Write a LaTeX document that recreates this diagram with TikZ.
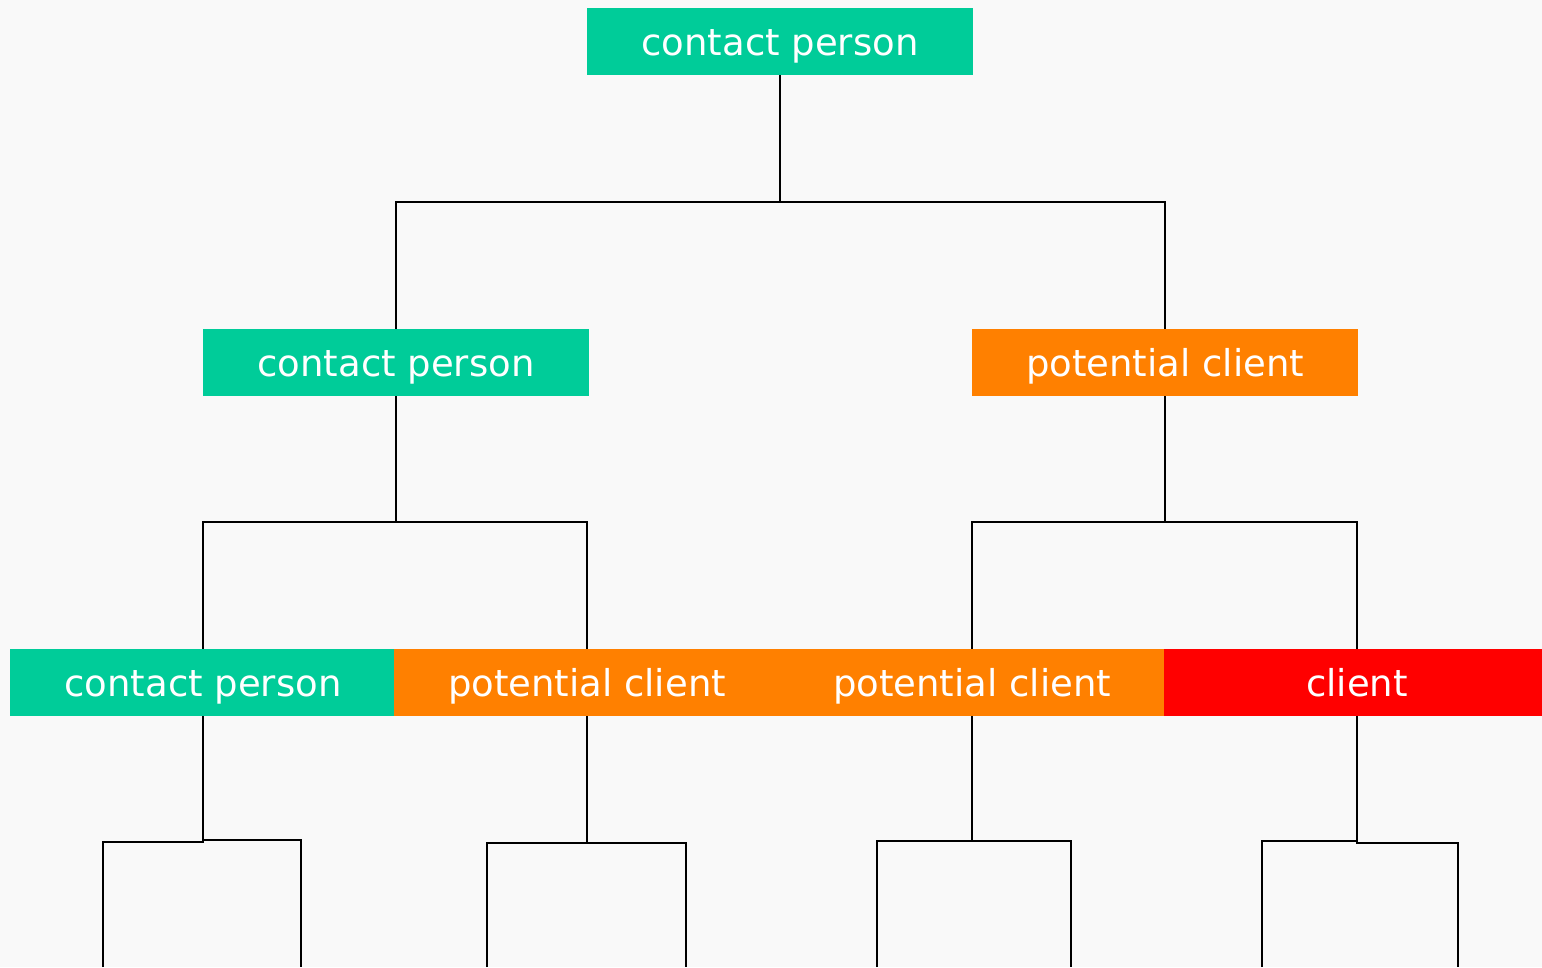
\documentclass[tikz,border=0pt]{standalone}
\usepackage{fontspec}
\setmainfont{DejaVu Sans}
\definecolor{bgcol}{RGB}{249,249,249}
\definecolor{gcol}{RGB}{0,204,153}
\definecolor{ocol}{RGB}{255,128,0}
\definecolor{rcol}{RGB}{255,0,0}
\tikzset{every picture/.style={x=1pt,y=-1pt}}
\tikzset{stage/.style={rectangle,inner sep=0pt,minimum width=386,minimum height=67,text=white,text height=27pt,text depth=0pt,font=\fontsize{37}{40}\selectfont}}
\tikzset{link/.style={line width=2pt,black}}

\begin{document}
\begin{tikzpicture}
\clip (0,0) rectangle (1542,967);
\fill [bgcol] (0,0) rectangle (1542,967);

\node [stage,fill=gcol] (top) at (780,41.5) {contact person};

\node [stage,fill=gcol] (cp2) at (396,362.5) {contact person};
\node [stage,fill=ocol] (pc2) at (1165,362.5) {potential client};

\node [stage,fill=gcol] (cp3) at (203,682.5) {contact person};
\node [stage,fill=ocol] (pc3a) at (587,682.5) {potential client};
\node [stage,fill=ocol] (pc3b) at (972,682.5) {potential client};
\node [stage,fill=rcol] (cl3) at (1357,682.5) {client};

\coordinate (j0) at (780,202);
\coordinate (j1) at (396,522);
\coordinate (j2) at (1165,522);
\draw [link] (top) -- (j0);
\draw [link] (j0) -| (cp2);
\draw [link] (j0) -| (pc2);
\draw [link] (cp2) -- (j1);
\draw [link] (j1) -| (cp3);
\draw [link] (j1) -| (pc3a);
\draw [link] (pc2) -- (j2);
\draw [link] (j2) -| (pc3b);
\draw [link] (j2) -| (cl3);

% brackets under the bottom row
\coordinate (b1a) at (203,842);
\coordinate (b1b) at (203,840);
\coordinate (b1l) at (103,967);
\coordinate (b1r) at (301,967);
\draw [link] (cp3) -- (b1b);
\draw [link] (b1l) |- (b1a) -- (b1b) -| (b1r);

\coordinate (b2) at (587,843);
\coordinate (b2l) at (487,967);
\coordinate (b2r) at (686,967);
\draw [link] (pc3a) -- (b2);
\draw [link] (b2l) |- (b2) -| (b2r);

\coordinate (b3) at (972,841);
\coordinate (b3l) at (877,967);
\coordinate (b3r) at (1071,967);
\draw [link] (pc3b) -- (b3);
\draw [link] (b3l) |- (b3) -| (b3r);

\coordinate (b4a) at (1357,841);
\coordinate (b4b) at (1357,843);
\coordinate (b4l) at (1262,967);
\coordinate (b4r) at (1458,967);
\draw [link] (cl3) -- (b4b);
\draw [link] (b4l) |- (b4a) -- (b4b) -| (b4r);
\end{tikzpicture}
\end{document}
